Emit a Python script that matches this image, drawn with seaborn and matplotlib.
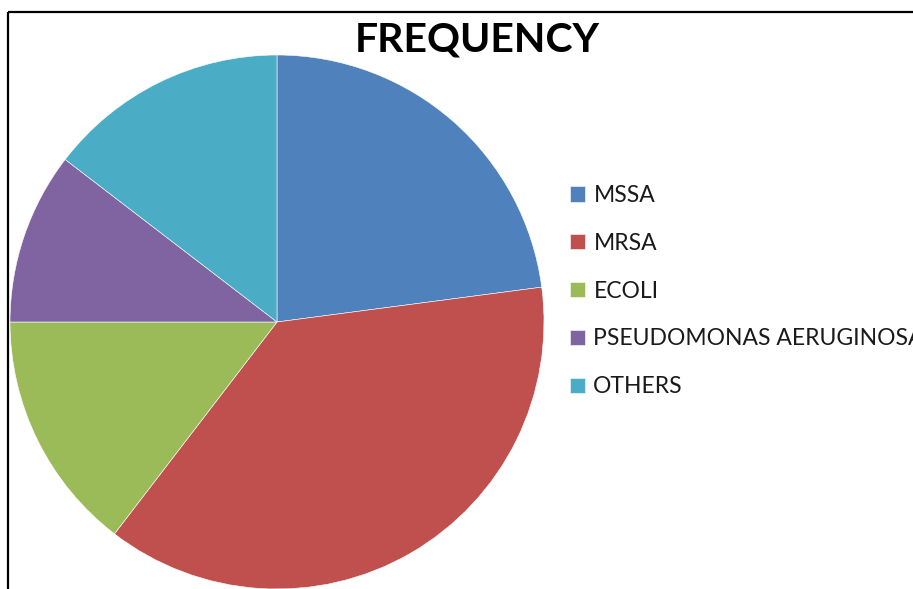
import matplotlib
matplotlib.use("Agg")
import matplotlib.pyplot as plt
import seaborn as sns

sns.set_theme(style="white")
plt.rcParams["font.family"] = ["Lato", "DejaVu Sans"]

# Isolate counts by organism
organisms = ["MSSA", "MRSA", "ECOLI", "PSEUDOMONAS AERUGINOSA", "OTHERS"]
counts = [11, 18, 7, 5, 7]
colors = ["#4F81BD", "#C0504D", "#9BBB59", "#8064A2", "#4BACC6"]

W, H = 913, 589
fig = plt.figure(figsize=(W / 100, H / 100), dpi=100)
ax = fig.add_axes([0, 0, 1, 1])

wedges, _ = ax.pie(
    counts,
    colors=colors,
    startangle=90,
    counterclock=False,
    center=(277, H - 322),
    radius=267,
    frame=True,
    wedgeprops=dict(edgecolor="white", linewidth=0.4),
)
ax.set_xlim(0, W)
ax.set_ylim(0, H)
ax.set_aspect("auto")
ax.set_xticks([])
ax.set_yticks([])
for s in ax.spines.values():
    s.set_visible(False)

# chart-area border (top and left edges)
ax.plot([8, W], [H - 12, H - 12], color="black", lw=1.6, solid_capstyle="butt")
ax.plot([8, 8], [H - 12, 0], color="black", lw=1.6, solid_capstyle="butt")

ax.text(477, H - 40, "FREQUENCY", ha="center", va="center",
        fontsize=29.5, fontweight="bold", color="black")

leg = ax.legend(
    wedges, organisms,
    loc="upper left",
    bbox_to_anchor=(570, H - 185),
    bbox_transform=ax.transData,
    frameon=False,
    fontsize=16.5,
    handlelength=0.65,
    handleheight=0.65,
    handletextpad=0.37,
    labelspacing=1.17,
    borderpad=0,
    borderaxespad=0,
)
for t in leg.get_texts():
    t.set_color("#1a1a1a")

fig.savefig("out.png", dpi=100)
